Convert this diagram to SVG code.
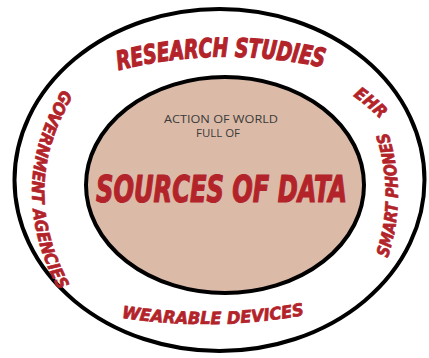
<svg xmlns="http://www.w3.org/2000/svg" width="429" height="358" viewBox="0 0 429 358">
  <style>
    .ring { fill: #ffffff; stroke: #000000; stroke-width: 4; }
    .core { fill: #dbbaa8; stroke: #000000; stroke-width: 4; }
    .bold { font-family: "DejaVu Sans Condensed", "DejaVu Sans", "Liberation Sans", sans-serif; font-weight: bold; font-style: italic; font-stretch: condensed; fill: #b3232a; stroke: #b3232a; stroke-width: 0.7; stroke-linejoin: round; }
    .big { stroke-width: 1.2; }
    .small { font-family: "Open Sans", "Liberation Sans", sans-serif; font-size: 10.5px; fill: #3a3a3a; text-anchor: middle; }
  </style>
  <defs>
    <path id="pResearch" d="M 108,73 Q 220,42 334,70"/>
    <path id="pWearable" d="M 112,316 Q 213,334 314,313"/>
    <path id="pGov" d="M 66,84 Q 0,188 62,296"/>
    <path id="pSmart" d="M 385,266 Q 411,195 385,124"/>
    <path id="pEhr" d="M 344,90 Q 366,103 388,127"/>
  </defs>
  <rect width="429" height="358" fill="#ffffff"/>
  <g id="outer">
    <ellipse class="ring" cx="219.5" cy="180" rx="205" ry="171"/>
  </g>
  <g id="inner">
    <ellipse class="core" cx="225" cy="185" rx="139" ry="108"/>
    <text class="small" x="221" y="122.5" textLength="114" lengthAdjust="spacingAndGlyphs">ACTION OF WORLD</text>
    <text class="small" x="218" y="136.5" textLength="44" lengthAdjust="spacingAndGlyphs">FULL OF</text>
    <text class="bold big" x="221.5" y="202" font-size="37" text-anchor="middle" textLength="251" lengthAdjust="spacingAndGlyphs">SOURCES OF DATA</text>
  </g>
  <g id="research-studies">
    <text class="bold big" font-size="26"><textPath href="#pResearch" startOffset="50%" text-anchor="middle" textLength="207" lengthAdjust="spacingAndGlyphs">RESEARCH STUDIES</textPath></text>
  </g>
  <g id="ehr">
    <text class="bold" font-size="17"><textPath href="#pEhr" startOffset="50%" text-anchor="middle" textLength="36" lengthAdjust="spacingAndGlyphs">EHR</textPath></text>
  </g>
  <g id="smart-phones">
    <text class="bold" font-size="17"><textPath href="#pSmart" startOffset="50%" text-anchor="middle" textLength="128" lengthAdjust="spacingAndGlyphs">SMART PHONES</textPath></text>
  </g>
  <g id="government-agencies">
    <text class="bold" font-size="17"><textPath href="#pGov" startOffset="50%" text-anchor="middle" textLength="212" lengthAdjust="spacingAndGlyphs">GOVERNMENT AGENCIES</textPath></text>
  </g>
  <g id="wearable-devices">
    <text class="bold" font-size="17"><textPath href="#pWearable" startOffset="50%" text-anchor="middle" textLength="184" lengthAdjust="spacingAndGlyphs">WEARABLE DEVICES</textPath></text>
  </g>
  <g id="connectors"/>
</svg>
